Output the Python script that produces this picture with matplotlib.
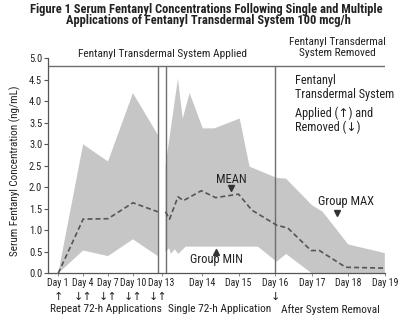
import matplotlib
matplotlib.use("Agg")
import matplotlib.pyplot as plt
from matplotlib import font_manager
import numpy as np

# condensed face, like the original print; first one found wins
FAM = ["Liberation Sans", "DejaVu Sans"]
for cand in ["Liberation Sans Narrow", "Roboto Condensed", "Archivo Narrow", "Barlow Semi Condensed"]:
    try:
        font_manager.findfont(cand, fallback_to_default=False)
        FAM = [cand, "DejaVu Sans"]
        break
    except Exception:
        pass
plt.rcParams["font.family"] = FAM

# ---- data (serum fentanyl, ng/mL) ----
# repeat 72-h applications, Day 1 - Day 13
rep_day = [1, 4, 7, 10, 13]
rep_mean = [0.0, 1.26, 1.27, 1.64, 1.43]
rep_min = [0.0, 0.53, 0.40, 0.79, 0.40]
rep_max = [0.0, 3.00, 2.60, 4.19, 3.22]

# single 72-h application (Day 13 - 16) and after removal (Day 16 - 19)
one_max_day = [13.0, 13.0, 13.34, 13.47, 13.66, 14.02, 14.34, 15.03, 15.30, 16.04, 16.3, 17.0, 17.3, 18.0, 19.0]
one_max = [0.50, 2.50, 4.53, 3.60, 4.19, 3.37, 3.37, 3.60, 2.48, 2.22, 2.20, 1.59, 1.43, 0.67, 0.47]
one_min_day = [13.0, 13.1, 13.15, 13.25, 13.35, 13.55, 15.53, 16.04, 16.3, 17.0, 19.0]
one_min = [0.50, 0.58, 0.45, 0.56, 0.45, 0.62, 0.62, 0.27, 0.45, 0.0, 0.0]
one_mean_day = [13.0, 13.11, 13.34, 13.49, 13.98, 14.37, 15.0, 15.36, 16.04, 16.35, 16.98, 17.21, 17.93, 19.0]
one_mean = [1.43, 1.26, 1.78, 1.69, 1.92, 1.76, 1.84, 1.47, 1.12, 1.05, 0.53, 0.53, 0.14, 0.12]

rep_ticks = [1, 4, 7, 10]
one_ticks = [14, 15, 16, 17, 18, 19]
arrow_marks = {1: "\u2191", 4: "\u2193\u2191", 7: "\u2193\u2191", 10: "\u2193\u2191", 13: "\u2193\u2191"}
removal_day = 16


# broken day axis: 3 days per unit up to Day 13, then ~1.47 units per day
def pos_rep(d):
    return (np.asarray(d, float) - 1) / 3.0


def pos_one(d):
    return 4.308 + (np.asarray(d, float) - 13) * 1.468


BAND = "#c6c6c6"
LINE = "#6e6e6e"
TXT = "#222222"

fig = plt.figure(figsize=(4.13, 3.21), dpi=100)
ax = fig.add_axes([0.1174, 0.1486, 0.8146, 0.6698])

# range bands
ax.fill(np.r_[pos_rep(rep_day), pos_rep(rep_day)[::-1]],
        np.r_[rep_max, rep_min[::-1]], color=BAND, lw=0, zorder=1)
ax.fill(np.r_[pos_one(one_max_day), pos_one(one_min_day)[::-1]],
        np.r_[one_max, one_min[::-1]], color=BAND, lw=0, zorder=1)

# mean lines
ax.plot(pos_rep(rep_day), rep_mean, color="#555555", lw=1.2, ls=(0, (3, 1.8)), zorder=3)
ax.plot(pos_one(one_mean_day), one_mean, color="#555555", lw=1.2, ls=(0, (3, 1.8)), zorder=3)

# section frame lines
top = 4.82
ax.vlines([pos_rep(13), pos_one(13), pos_one(removal_day)], 0, top, color=LINE, lw=1.0, zorder=2)
ax.axhline(top, color=LINE, lw=1.0, zorder=2)

ax.set_xlim(-0.392, 13.12)
ax.set_ylim(0, 5.0)
ax.set_yticks(np.arange(0, 5.01, 0.5))
ax.set_yticklabels([f"{v:.1f}" for v in np.arange(0, 5.01, 0.5)])

xt = list(pos_rep(rep_ticks)) + [(pos_rep(13) + pos_one(13)) / 2] + list(pos_one(one_ticks))
xl = [f"Day {d}" for d in rep_ticks] + ["Day 13"] + [f"Day {d}" for d in one_ticks]
ax.set_xticks(xt)
ax.set_xticklabels(xl)

for s in ["top", "right"]:
    ax.spines[s].set_visible(False)
for s in ["left", "bottom"]:
    ax.spines[s].set_color("#555555")
    ax.spines[s].set_linewidth(0.9)
ax.tick_params(axis="x", length=2, width=0.6, color="#777777", pad=1.5, labelsize=7.1, labelcolor=TXT)
ax.tick_params(axis="y", length=3, width=0.8, color="#555555", pad=1.5, labelsize=7.6, labelcolor=TXT)

fig.text(15 / 413, 1 - 171 / 321, "Serum Fentanyl Concentration (ng/mL)", rotation=90,
         ha="center", va="center", fontsize=8, color=TXT)

# title
fig.text(0.5, 1 - 9 / 321, "Figure 1 Serum Fentanyl Concentrations Following Single and Multiple",
         ha="center", va="center", fontsize=9, fontweight="bold", color=TXT)
fig.text(0.505, 1 - 20.5 / 321, "Applications of Fentanyl Transdermal System 100 mcg/h",
         ha="center", va="center", fontsize=9, fontweight="bold", color=TXT)

# section headers
ax.text(4.17, 5.1, "Fentanyl Transdermal System Applied", ha="center", va="center",
        fontsize=8.2, color=TXT, clip_on=False)
ax.text(11.2, 5.25, "Fentanyl Transdermal\nSystem Removed", ha="center", va="center",
        fontsize=8.2, color=TXT, linespacing=1.05, clip_on=False)

# key text
ax.text(pos_one(16.55), 4.31, "Fentanyl\nTransdermal System", ha="left", va="center",
        fontsize=8.8, color=TXT, linespacing=1.1)
ax.text(pos_one(16.55), 3.56, "Applied (\u2191) and\nRemoved (\u2193)", ha="left", va="center",
        fontsize=8.8, color=TXT, linespacing=1.1)

# labels for the curves
ax.text(pos_one(14.8), 2.19, "MEAN", ha="center", va="center", fontsize=9, color=TXT)
ax.plot(pos_one(14.78), 1.98, marker="v", ms=5, color="#333333", ls="none")
ax.text(pos_one(14.39), 0.31, "Group MIN", ha="center", va="center", fontsize=9, color=TXT)
ax.plot(pos_one(14.37), 0.49, marker="^", ms=5, color="#333333", ls="none")
ax.text(pos_one(17.93), 1.67, "Group MAX", ha="center", va="center", fontsize=9, color=TXT)
ax.plot(pos_one(17.68), 1.40, marker="v", ms=5, color="#333333", ls="none")

# applied / removed arrows under the axis
tr = ax.get_xaxis_transform()
for d, s in arrow_marks.items():
    ax.text(pos_rep(d), -0.109, s, transform=tr, ha="center", va="center", fontsize=8, color=TXT)
ax.text(pos_one(removal_day), -0.109, "\u2193", transform=tr, ha="center", va="center",
        fontsize=8, color=TXT)

ax.text(pos_rep(6.7), -0.167, "Repeat 72-h Applications", transform=tr, ha="center",
        va="center", fontsize=8.2, color=TXT)
ax.text(pos_one(14.48), -0.167, "Single 72-h Application", transform=tr, ha="center",
        va="center", fontsize=8.2, color=TXT)
ax.text(pos_one(17.5), -0.167, "After System Removal", transform=tr, ha="center",
        va="center", fontsize=8.2, color=TXT)

fig.savefig("out.png", dpi=100)
